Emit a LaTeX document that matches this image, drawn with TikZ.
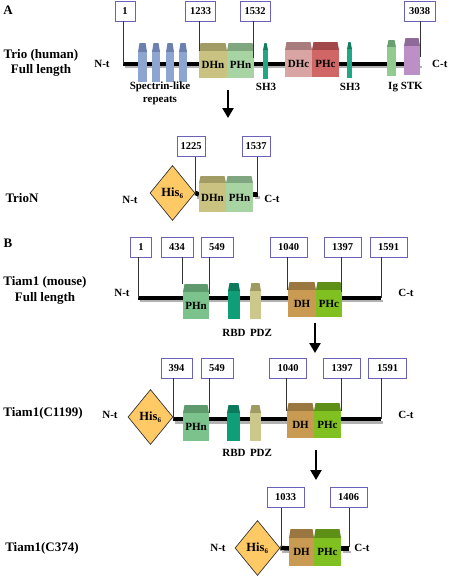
\documentclass[tikz,border=0pt]{standalone}
\usepackage{fontspec}
\setmainfont{Liberation Serif}
\usetikzlibrary{shapes.geometric,arrows.meta}

\definecolor{boxblue}{HTML}{6A62B8}
\definecolor{hisfill}{HTML}{FFC966}
\definecolor{spec}{HTML}{8EA5D2}   \definecolor{spechd}{HTML}{6B80AE}
\definecolor{dhn}{HTML}{C9C280}    \definecolor{dhnhd}{HTML}{A19C64}
\definecolor{phna}{HTML}{A8D4A4}   \definecolor{phnahd}{HTML}{80A680}
\definecolor{shthree}{HTML}{20A884}\definecolor{shthreehd}{HTML}{107E60}
\definecolor{dhc}{HTML}{D8A4A4}    \definecolor{dhchd}{HTML}{A87C7C}
\definecolor{phca}{HTML}{D06666}   \definecolor{phcahd}{HTML}{A24848}
\definecolor{ig}{HTML}{90CC90}     \definecolor{ighd}{HTML}{6A9E70}
\definecolor{stk}{HTML}{BC8FC6}    \definecolor{stkhd}{HTML}{8E6A98}
\definecolor{phnb}{HTML}{7CC28C}   \definecolor{phnbhd}{HTML}{5E9A6C}
\definecolor{rbd}{HTML}{0E9E78}    \definecolor{rbdhd}{HTML}{0B7A5C}
\definecolor{pdz}{HTML}{CCC88C}    \definecolor{pdzhd}{HTML}{9E9A62}
\definecolor{dhb}{HTML}{C99A52}    \definecolor{dhbhd}{HTML}{9A7640}
\definecolor{phcb}{HTML}{80C020}   \definecolor{phcbhd}{HTML}{5E9018}

% name, x1, x2, ytop, yhead, ybottom, body colour, top colour, text
\newcommand{\domain}[9]{%
  \fill[#8] ({#2+1.5},#4) -- ({#3-1.5},#4) -- (#3,#5) -- (#2,#5) -- cycle;
  \fill[#7] (#2,#5) rectangle (#3,#6);
  \node[domtxt] (#1) at ({(#2+#3)/2},{(#5+#6)/2}) {#9};
}
\newcommand{\hissix}{His\textsubscript{\fontsize{7}{8}\selectfont 6}}

\begin{document}
\begin{tikzpicture}[x=1pt,y=-1pt,
    posbox/.style={draw=boxblue, line width=0.8pt, fill=white,
      minimum width=30pt, minimum height=20pt, inner sep=0pt,
      font=\fontsize{10.5}{12}\selectfont\bfseries},
    tick/.style={gray!40!black, line width=0.7pt},
    domtxt/.style={inner sep=0pt, align=center,
      font=\fontsize{11}{13}\selectfont\bfseries},
    rowtitle/.style={inner sep=0pt, align=center,
      font=\fontsize{13}{15.5}\selectfont\bfseries},
    his/.style={diamond, draw=black!80, line width=0.7pt, fill=hisfill,
      minimum width=45pt, minimum height=55pt, inner sep=0pt,
      font=\fontsize{12.5}{14}\selectfont\bfseries},
    backbone/.style={line width=4.5pt},
    shadow/.style={gray!60, line width=2.5pt},
    bigarrow/.style={-{Triangle[length=10pt,width=11pt]}, line width=2.8pt}]
  \useasboundingbox (0,0) rectangle (448,576);

  % Panel A: Trio full length
  \node[rowtitle] (lettA) at (8,10) {A};
  \node[rowtitle] (trio) at (41,63) {Trio (human)\\Full length};
  \node[domtxt] (ntA) at (102,64) {N-t};
  \node[domtxt, anchor=west] (ctA) at (432,64) {C-t};
  \draw[shadow] (125,67) -- (422,67);
  \draw[backbone] (123,64) -- (420,64);
  \domain{srA}{138}{147}{43}{52}{82}{spec}{spechd}{}
  \domain{srB}{152}{160}{43}{52}{82}{spec}{spechd}{}
  \domain{srC}{166}{174}{43}{52}{82}{spec}{spechd}{}
  \domain{srD}{179}{187}{43}{52}{82}{spec}{spechd}{}
  \domain{dhnA}{199}{227}{43}{51}{78}{dhn}{dhnhd}{DHn}
  \domain{phnA}{227}{254}{43}{51}{78}{phna}{phnahd}{PHn}
  \domain{shA}{263}{268}{43}{50}{79}{shthree}{shthreehd}{}
  \domain{dhcA}{285}{312}{42}{50}{77}{dhc}{dhchd}{DHc}
  \domain{phcA}{312}{339}{42}{50}{77}{phca}{phcahd}{PHc}
  \domain{shB}{347}{352}{42}{49}{78}{shthree}{shthreehd}{}
  \domain{igA}{387}{396}{40}{47}{76}{ig}{ighd}{}
  \domain{stkA}{404}{420}{38}{46}{75}{stk}{stkhd}{}
  \node[domtxt] (srtxt) at (160,93.5) {Spectrin-like\\repeats};
  \node[domtxt] (shtxtA) at (266,87) {SH3};
  \node[domtxt] (shtxtB) at (350,87) {SH3};
  \node[domtxt] (igtxt) at (405.5,87) {Ig STK};

  % residue boxes
  \node[posbox, minimum width=20pt] (pA1) at (125,11) {1};
  \node[posbox] (pA1233) at (200.5,11) {1233};
  \node[posbox] (pA1532) at (255,11) {1532};
  \node[posbox, minimum width=31pt] (pA3038) at (419.5,11) {3038};
  \coordinate (tA1) at (123,64);
  \coordinate (tA1233) at (199,51);
  \coordinate (tA1532) at (253,58);
  \coordinate (tA3038) at (420,57);
  \draw[tick] (pA1.south -| tA1) -- (tA1);
  \draw[tick] (pA1233.south -| tA1233) -- (tA1233);
  \draw[tick] (pA1532.south -| tA1532) -- (tA1532);
  \draw[tick] (pA3038.south -| tA3038) -- (tA3038);

  \coordinate (arA1) at (228,90);
  \coordinate (arA2) at (228,118);
  \draw[bigarrow] (arA1) -- (arA2);

  % Panel A: TrioN
  \node[rowtitle] (trion) at (22,198) {TrioN};
  \node[domtxt] (ntB) at (130,200) {N-t};
  \node[his] (hisA) at (172.5,193) {\hissix};
  \draw[shadow] (197,197.5) -- (201,197.5);
  \draw[backbone] (hisA.east) -- (199,194.5);
  \draw[shadow] (255,197.5) -- (260,197.5);
  \draw[backbone] (253,194.5) -- (258,194.5);
  \domain{dhnB}{199}{226}{176}{183}{212}{dhn}{dhnhd}{DHn}
  \domain{phnB}{226}{253}{176}{183}{212}{phna}{phnahd}{PHn}
  \node[domtxt] (ctB) at (272,199) {C-t};
  \node[posbox, minimum width=28pt] (pB1225) at (191,146.5) {1225};
  \node[posbox, minimum width=28pt] (pB1537) at (256,146.5) {1537};
  \coordinate (tB1225) at (195,193);
  \coordinate (tB1537) at (257,193);
  \draw[tick] (pB1225.south -| tB1225) -- (tB1225);
  \draw[tick] (pB1537.south -| tB1537) -- (tB1537);

  % Panel B: Tiam1 full length
  \node[rowtitle] (lettB) at (8,243) {B};
  \node[rowtitle] (tiam) at (45,290.5) {Tiam1 (mouse)\\Full length};
  \node[domtxt] (ntC) at (122,293) {N-t};
  \node[domtxt] (ctC) at (406,293) {C-t};
  \draw[shadow] (140,301) -- (383,301);
  \draw[backbone] (138,298) -- (381,298);
  \domain{phnC}{183}{209}{284}{292}{319}{phnb}{phnbhd}{PHn}
  \domain{rbdC}{228}{240}{283}{291}{319}{rbd}{rbdhd}{}
  \domain{pdzC}{250}{261}{283}{291}{319}{pdz}{pdzhd}{}
  \domain{dhC}{288}{316}{282}{290}{317}{dhb}{dhbhd}{DH}
  \domain{phcC}{316}{342}{282}{290}{317}{phcb}{phcbhd}{PHc}
  \node[domtxt] (rbdtxtC) at (234,333) {RBD};
  \node[domtxt] (pdztxtC) at (261,333) {PDZ};
  \node[posbox, minimum width=21pt] (pC1) at (141,247) {1};
  \node[posbox, minimum width=32pt] (pC434) at (177,247) {434};
  \node[posbox, minimum width=32pt] (pC549) at (217,247) {549};
  \node[posbox, minimum width=37pt] (pC1040) at (288.5,247) {1040};
  \node[posbox, minimum width=37pt] (pC1397) at (342.5,247) {1397};
  \node[posbox, minimum width=37pt] (pC1591) at (388.5,247) {1591};
  \coordinate (tC1) at (138,298);
  \coordinate (tC434) at (182,284);
  \coordinate (tC549) at (209,294);
  \coordinate (tC1040) at (287,290);
  \coordinate (tC1397) at (341,292);
  \coordinate (tC1591) at (381,298);
  \draw[tick] (pC1.south -| tC1) -- (tC1);
  \draw[tick] (pC434.south -| tC434) -- (tC434);
  \draw[tick] (pC549.south -| tC549) -- (tC549);
  \draw[tick] (pC1040.south -| tC1040) -- (tC1040);
  \draw[tick] (pC1397.south -| tC1397) -- (tC1397);
  \draw[tick] (pC1591.south -| tC1591) -- (tC1591);

  \coordinate (arC1) at (315,323);
  \coordinate (arC2) at (315,353);
  \draw[bigarrow] (arC1) -- (arC2);

  % Panel B: Tiam1(C1199)
  \node[rowtitle] (c1199) at (43,413) {Tiam1(C1199)};
  \node[domtxt] (ntD) at (110,415) {N-t};
  \node[domtxt] (ctD) at (406,415) {C-t};
  \node[his] (hisD) at (150.5,417) {\hissix};
  \draw[shadow] (175,422.5) -- (383,422.5);
  \draw[backbone] (173,419) -- (381,419);
  \domain{phnD}{183}{209}{405}{413}{441}{phnb}{phnbhd}{PHn}
  \domain{rbdD}{227}{240}{405}{413}{441}{rbd}{rbdhd}{}
  \domain{pdzD}{250}{261}{405}{413}{441}{pdz}{pdzhd}{}
  \domain{dhD}{287}{314}{403}{411}{438}{dhb}{dhbhd}{DH}
  \domain{phcD}{314}{341}{403}{411}{438}{phcb}{phcbhd}{PHc}
  \node[domtxt] (rbdtxtD) at (234,453) {RBD};
  \node[domtxt] (pdztxtD) at (261,453) {PDZ};
  \node[posbox, minimum width=31pt] (pD394) at (176.5,368) {394};
  \node[posbox, minimum width=32pt] (pD549) at (217,368) {549};
  \node[posbox, minimum width=37pt] (pD1040) at (288,368) {1040};
  \node[posbox, minimum width=37pt] (pD1397) at (342,368) {1397};
  \node[posbox, minimum width=38pt] (pD1591) at (387.5,368) {1591};
  \coordinate (tD394) at (173,419);
  \coordinate (tD549) at (209,413);
  \coordinate (tD1040) at (286,411);
  \coordinate (tD1397) at (341,411);
  \coordinate (tD1591) at (381,419);
  \draw[tick] (pD394.south -| tD394) -- (tD394);
  \draw[tick] (pD549.south -| tD549) -- (tD549);
  \draw[tick] (pD1040.south -| tD1040) -- (tD1040);
  \draw[tick] (pD1397.south -| tD1397) -- (tD1397);
  \draw[tick] (pD1591.south -| tD1591) -- (tD1591);

  \coordinate (arD1) at (316,450);
  \coordinate (arD2) at (316,480);
  \draw[bigarrow] (arD1) -- (arD2);

  % Panel B: Tiam1(C374)
  \node[rowtitle] (c374) at (42,548) {Tiam1(C374)};
  \node[domtxt] (ntE) at (218,548) {N-t};
  \node[domtxt] (ctE) at (362,548) {C-t};
  \node[his] (hisE) at (257.5,548) {\hissix};
  \draw[shadow] (282,552) -- (291,552);
  \draw[backbone] (hisE.east) -- (289,548.5);
  \draw[shadow] (343,552) -- (351,552);
  \draw[backbone] (341,548.5) -- (349,548.5);
  \domain{dhE}{289}{314}{529}{538}{566}{dhb}{dhbhd}{DH}
  \domain{phcE}{314}{341}{529}{538}{566}{phcb}{phcbhd}{PHc}
  \node[posbox, minimum width=37pt] (pE1033) at (285.5,497.5) {1033};
  \node[posbox, minimum width=37pt] (pE1406) at (348.5,497.5) {1406};
  \coordinate (tE1033) at (281,547);
  \coordinate (tE1406) at (349,547);
  \draw[tick] (pE1033.south -| tE1033) -- (tE1033);
  \draw[tick] (pE1406.south -| tE1406) -- (tE1406);
\end{tikzpicture}
\end{document}
